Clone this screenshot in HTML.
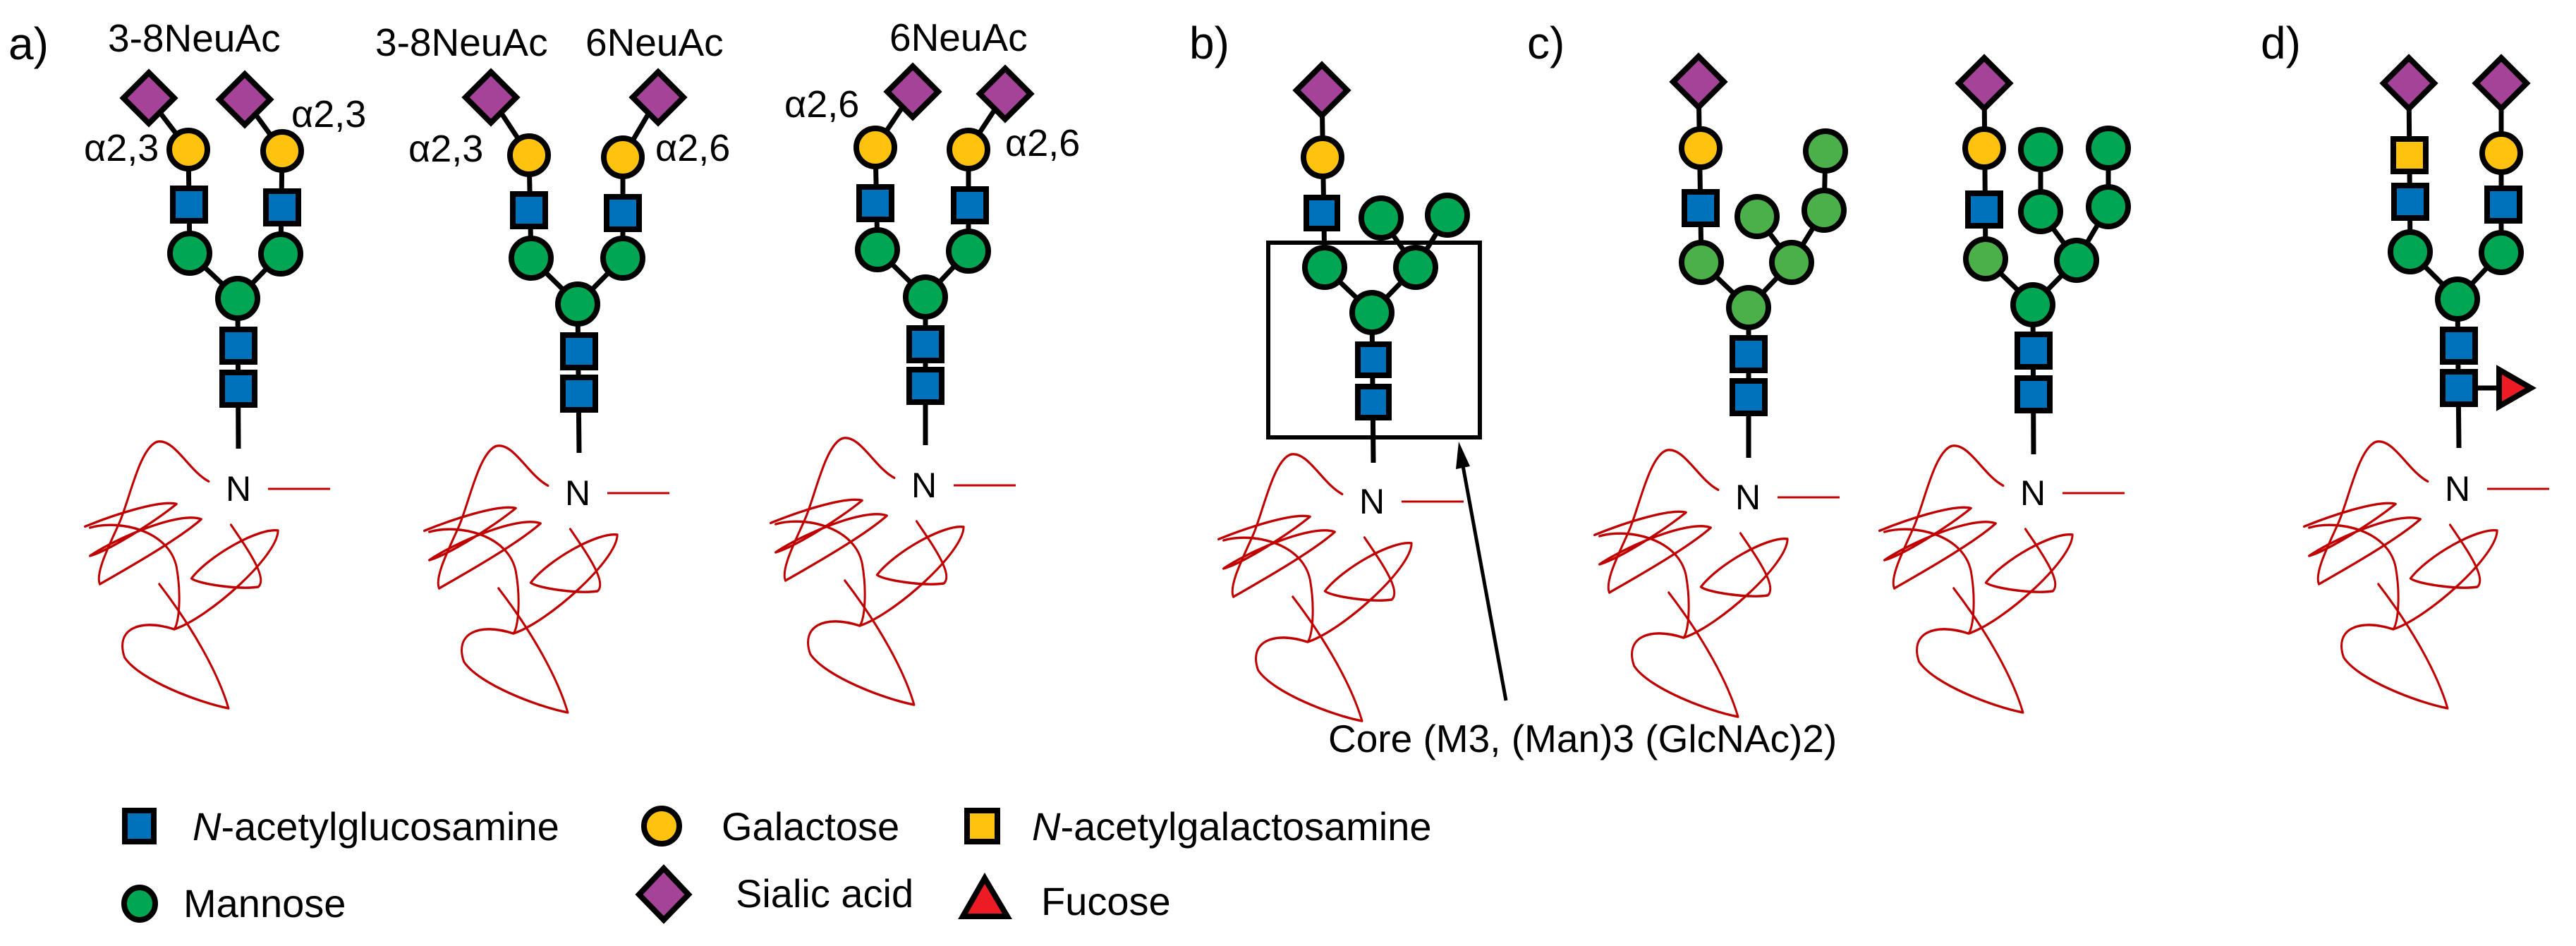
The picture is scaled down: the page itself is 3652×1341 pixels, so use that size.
<!DOCTYPE html>
<html><head><meta charset="utf-8"><style>
html,body{margin:0;padding:0;background:#fff;}
svg{display:block;}
text{font-family:"Liberation Sans",Arial,sans-serif;fill:#000;}
.l{stroke:#000;stroke-width:7;fill:none;}
.s{stroke:#000;stroke-width:8;}
.b{fill:#0072bc;}
.g{fill:#00a651;}
.lg{fill:#4cb04a;}
.y{fill:#ffc20e;}
.p{fill:#a54399;}
.r{fill:#ed1c24;}
.pr{stroke:#c00000;stroke-width:4.3;fill:none;stroke-linecap:round;stroke-linejoin:round;}
</style></head><body>
<svg width="3652" height="1341" viewBox="0 0 3652 1341" xmlns="http://www.w3.org/2000/svg">
<defs>
<g id="prot">
<path class="pr" d="M -60,-12 C -100,-30 -130,-90 -165,-82 C -200,-70 -220,20 -240,60 C -260,100 -290,150 -280,170"/>
<path class="pr" d="M -310,68 C -260,50 -160,20 -125,28 C -170,60 -260,110 -300,120 C -250,90 -120,40 -75,55 C -120,90 -220,140 -280,170"/>
<path class="pr" d="M -300,70 C -240,55 -140,75 -125,140 C -115,190 -120,240 -130,250 C -200,230 -250,250 -230,300 C -200,340 -80,380 -20,390 C -40,330 -90,250 -160,170"/>
<path class="pr" d="M -15,65 C 20,110 60,160 40,175 C 0,180 -80,170 -95,160 C -60,120 40,70 80,75 C 80,120 -60,230 -130,250"/>
</g>
</defs>

<text x="12" y="84" font-size="64">a)</text>
<text x="1686" y="83" font-size="64">b)</text>
<text x="2165" y="83" font-size="64">c)</text>
<text x="3205" y="83" font-size="64">d)</text>

<!-- ===== Glycan 1 ===== -->
<g>
<line class="l" x1="211" y1="139" x2="267" y2="212"/><line class="l" x1="347" y1="141" x2="400" y2="214"/>
<line class="l" x1="267" y1="212" x2="269" y2="359"/><line class="l" x1="400" y1="214" x2="398" y2="360"/>
<line class="l" x1="269" y1="359" x2="337" y2="423"/><line class="l" x1="398" y1="360" x2="337" y2="423"/>
<line class="l" x1="337" y1="423" x2="338" y2="636"/>
<polygon class="s p" points="211,103 247,139 211,175 175,139"/>
<polygon class="s p" points="347,105 383,141 347,177 311,141"/>
<circle class="s y" cx="267" cy="212" r="27"/><circle class="s y" cx="400" cy="214" r="27"/>
<rect class="s b" x="245" y="267" width="46" height="46"/><rect class="s b" x="377" y="271" width="46" height="46"/>
<circle class="s g" cx="269" cy="359" r="28"/><circle class="s g" cx="398" cy="360" r="28"/>
<circle class="s g" cx="337" cy="423" r="28"/>
<rect class="s b" x="315" y="467" width="46" height="46"/><rect class="s b" x="315" y="528" width="46" height="46"/>
<text x="153" y="73" font-size="55">3-8NeuAc</text>
<text x="119" y="228" font-size="54">α2,3</text>
<text x="413" y="180" font-size="54">α2,3</text>
<text x="338" y="710" font-size="50" text-anchor="middle">N</text>
<line x1="380" y1="693" x2="468" y2="693" stroke="#c00000" stroke-width="3"/>
<use href="#prot" transform="translate(338,692) scale(0.7015,0.8)"/>
</g>

<!-- ===== Glycan 2 ===== -->
<g>
<line class="l" x1="696" y1="138" x2="750" y2="220"/><line class="l" x1="933" y1="138" x2="883" y2="223"/>
<line class="l" x1="750" y1="220" x2="753" y2="366"/><line class="l" x1="883" y1="223" x2="883" y2="366"/>
<line class="l" x1="753" y1="366" x2="819" y2="431"/><line class="l" x1="883" y1="366" x2="819" y2="431"/>
<line class="l" x1="819" y1="431" x2="821" y2="642"/>
<polygon class="s p" points="696,102 732,138 696,174 660,138"/>
<polygon class="s p" points="933,102 969,138 933,174 897,138"/>
<circle class="s y" cx="750" cy="220" r="27"/><circle class="s y" cx="883" cy="223" r="27"/>
<rect class="s b" x="727" y="275" width="46" height="46"/><rect class="s b" x="860" y="279" width="46" height="46"/>
<circle class="s g" cx="753" cy="366" r="28"/><circle class="s g" cx="883" cy="366" r="28"/>
<circle class="s g" cx="819" cy="431" r="28"/>
<rect class="s b" x="798" y="475" width="46" height="46"/><rect class="s b" x="798" y="535" width="46" height="46"/>
<text x="532" y="79" font-size="55">3-8NeuAc</text>
<text x="830" y="79" font-size="55">6NeuAc</text>
<text x="579" y="229" font-size="54">α2,3</text>
<text x="929" y="228" font-size="54">α2,6</text>
<text x="819" y="716" font-size="50" text-anchor="middle">N</text>
<line x1="861" y1="699" x2="949" y2="699" stroke="#c00000" stroke-width="3"/>
<use href="#prot" transform="translate(819,698) scale(0.7015,0.8)"/>
</g>

<!-- ===== Glycan 3 ===== -->
<g>
<line class="l" x1="1294" y1="130" x2="1241" y2="209"/><line class="l" x1="1425" y1="133" x2="1373" y2="212"/>
<line class="l" x1="1241" y1="209" x2="1244" y2="354"/><line class="l" x1="1373" y1="212" x2="1373" y2="356"/>
<line class="l" x1="1244" y1="354" x2="1312" y2="421"/><line class="l" x1="1373" y1="356" x2="1312" y2="421"/>
<line class="l" x1="1312" y1="421" x2="1312" y2="631"/>
<polygon class="s p" points="1294,94 1330,130 1294,166 1258,130"/>
<polygon class="s p" points="1425,97 1461,133 1425,169 1389,133"/>
<circle class="s y" cx="1241" cy="209" r="27"/><circle class="s y" cx="1373" cy="212" r="27"/>
<rect class="s b" x="1218" y="265" width="46" height="46"/><rect class="s b" x="1352" y="268" width="46" height="46"/>
<circle class="s g" cx="1244" cy="354" r="28"/><circle class="s g" cx="1373" cy="356" r="28"/>
<circle class="s g" cx="1312" cy="421" r="28"/>
<rect class="s b" x="1289" y="465" width="46" height="46"/><rect class="s b" x="1289" y="524" width="46" height="46"/>
<text x="1261" y="72" font-size="55">6NeuAc</text>
<text x="1112" y="166" font-size="54">α2,6</text>
<text x="1425" y="221" font-size="54">α2,6</text>
<text x="1310" y="705" font-size="50" text-anchor="middle">N</text>
<line x1="1352" y1="688" x2="1440" y2="688" stroke="#c00000" stroke-width="3"/>
<use href="#prot" transform="translate(1310,687) scale(0.7015,0.8)"/>
</g>

<!-- ===== b ===== -->
<g>
<line class="l" x1="1874" y1="128" x2="1878" y2="379"/>
<line class="l" x1="1878" y1="379" x2="1945" y2="443"/><line class="l" x1="2007" y1="379" x2="1945" y2="443"/>
<line class="l" x1="1958" y1="309" x2="2007" y2="379"/><line class="l" x1="2052" y1="305" x2="2007" y2="379"/>
<line class="l" x1="1945" y1="443" x2="1947" y2="656"/>
<polygon class="s p" points="1874,92 1910,128 1874,164 1838,128"/>
<circle class="s y" cx="1875" cy="223" r="27"/>
<rect class="s b" x="1852" y="280" width="44" height="44"/>
<circle class="s g" cx="1958" cy="309" r="28"/><circle class="s g" cx="2052" cy="305" r="28"/>
<circle class="s g" cx="1878" cy="379" r="28"/><circle class="s g" cx="2007" cy="379" r="28"/>
<circle class="s g" cx="1945" cy="443" r="28"/>
<rect class="s b" x="1925" y="488" width="44" height="44"/><rect class="s b" x="1925" y="548" width="44" height="44"/>
<rect x="1798" y="344" width="300" height="276" fill="none" stroke="#000" stroke-width="6"/>
<text x="1945" y="728" font-size="50" text-anchor="middle">N</text>
<line x1="1987" y1="711" x2="2075" y2="711" stroke="#c00000" stroke-width="3"/>
<use href="#prot" transform="translate(1945,710) scale(0.7015,0.8)"/>
<line x1="2135" y1="993" x2="2073" y2="655" stroke="#000" stroke-width="5"/>
<polygon points="2068,626 2084,661 2064,665" fill="#000"/>
<text x="1883" y="1066" font-size="55">Core (M3, (Man)3 (GlcNAc)2)</text>
</g>

<!-- ===== c1 ===== -->
<g>
<line class="l" x1="2408" y1="116" x2="2412" y2="372"/>
<line class="l" x1="2412" y1="372" x2="2479" y2="436"/><line class="l" x1="2540" y1="372" x2="2479" y2="436"/>
<line class="l" x1="2491" y1="307" x2="2540" y2="372"/><line class="l" x1="2586" y1="298" x2="2540" y2="372"/>
<line class="l" x1="2588" y1="214" x2="2586" y2="298"/>
<line class="l" x1="2479" y1="436" x2="2479" y2="649"/>
<polygon class="s p" points="2408,80 2444,116 2408,152 2372,116"/>
<circle class="s y" cx="2411" cy="210" r="27"/>
<rect class="s b" x="2388" y="272" width="46" height="46"/>
<circle class="s lg" cx="2412" cy="372" r="28"/>
<circle class="s lg" cx="2491" cy="307" r="28"/>
<circle class="s lg" cx="2588" cy="214" r="28"/><circle class="s lg" cx="2586" cy="298" r="28"/>
<circle class="s lg" cx="2540" cy="372" r="28"/>
<circle class="s lg" cx="2479" cy="436" r="28"/>
<rect class="s b" x="2456" y="479" width="46" height="46"/><rect class="s b" x="2456" y="540" width="46" height="46"/>
<text x="2478" y="722" font-size="50" text-anchor="middle">N</text>
<line x1="2520" y1="705" x2="2608" y2="705" stroke="#c00000" stroke-width="3"/>
<use href="#prot" transform="translate(2478,704) scale(0.7015,0.8)"/>
</g>

<!-- ===== c2 ===== -->
<g>
<line class="l" x1="2813" y1="118" x2="2815" y2="367"/>
<line class="l" x1="2815" y1="367" x2="2882" y2="432"/><line class="l" x1="2944" y1="369" x2="2882" y2="432"/>
<line class="l" x1="2893" y1="300" x2="2944" y2="369"/><line class="l" x1="2989" y1="293" x2="2944" y2="369"/>
<line class="l" x1="2893" y1="212" x2="2893" y2="300"/><line class="l" x1="2989" y1="210" x2="2989" y2="293"/>
<line class="l" x1="2882" y1="432" x2="2883" y2="644"/>
<polygon class="s p" points="2813,82 2849,118 2813,154 2777,118"/>
<circle class="s y" cx="2813" cy="210" r="27"/>
<rect class="s b" x="2790" y="274" width="46" height="46"/>
<circle class="s lg" cx="2815" cy="367" r="28"/>
<circle class="s g" cx="2893" cy="212" r="28"/><circle class="s g" cx="2893" cy="300" r="28"/>
<circle class="s g" cx="2989" cy="210" r="28"/><circle class="s g" cx="2989" cy="293" r="28"/>
<circle class="s g" cx="2944" cy="369" r="28"/>
<circle class="s g" cx="2882" cy="432" r="28"/>
<rect class="s b" x="2860" y="474" width="46" height="46"/><rect class="s b" x="2860" y="536" width="46" height="46"/>
<text x="2882" y="716" font-size="50" text-anchor="middle">N</text>
<line x1="2924" y1="699" x2="3012" y2="699" stroke="#c00000" stroke-width="3"/>
<use href="#prot" transform="translate(2882,698) scale(0.7015,0.8)"/>
</g>

<!-- ===== d ===== -->
<g>
<line class="l" x1="3415" y1="118" x2="3417" y2="357"/><line class="l" x1="3546" y1="118" x2="3546" y2="358"/>
<line class="l" x1="3417" y1="357" x2="3484" y2="424"/><line class="l" x1="3546" y1="358" x2="3484" y2="424"/>
<line class="l" x1="3484" y1="424" x2="3486" y2="635"/>
<line class="l" x1="3486" y1="550" x2="3542" y2="550"/>
<polygon class="s p" points="3415,82 3451,118 3415,154 3379,118"/>
<polygon class="s p" points="3546,82 3582,118 3546,154 3510,118"/>
<rect class="s y" x="3393" y="197" width="46" height="46"/>
<circle class="s y" cx="3546" cy="217" r="27"/>
<rect class="s b" x="3394" y="263" width="46" height="46"/><rect class="s b" x="3526" y="267" width="46" height="46"/>
<circle class="s g" cx="3417" cy="357" r="28"/><circle class="s g" cx="3546" cy="358" r="28"/>
<circle class="s g" cx="3484" cy="424" r="28"/>
<rect class="s b" x="3463" y="467" width="46" height="46"/><rect class="s b" x="3463" y="527" width="46" height="46"/>
<polygon class="s r" points="3543,524 3543,576 3588,550" stroke-linejoin="miter"/>
<text x="3484" y="710" font-size="50" text-anchor="middle">N</text>
<line x1="3526" y1="693" x2="3614" y2="693" stroke="#c00000" stroke-width="3"/>
<use href="#prot" transform="translate(3484,692) scale(0.7015,0.8)"/>
</g>

<!-- ===== legend ===== -->
<rect class="s b" x="177" y="1149" width="41" height="44"/>
<text x="273" y="1191" font-size="56"><tspan font-style="italic">N</tspan>-acetylglucosamine</text>
<circle class="s y" cx="938" cy="1171" r="25"/>
<text x="1023" y="1191" font-size="56">Galactose</text>
<rect class="s y" x="1371" y="1149" width="43" height="44"/>
<text x="1463" y="1191" font-size="56"><tspan font-style="italic">N</tspan>-acetylgalactosamine</text>
<ellipse class="s g" cx="198" cy="1281" rx="22" ry="23"/>
<text x="260" y="1300" font-size="56">Mannose</text>
<polygon class="s p" points="941,1231 976,1268 941,1304 906,1268"/>
<text x="1043" y="1286" font-size="56">Sialic acid</text>
<polygon class="s r" points="1396,1245 1428,1299 1365,1299"/>
<text x="1476" y="1297" font-size="56">Fucose</text>
</svg>
</body></html>
